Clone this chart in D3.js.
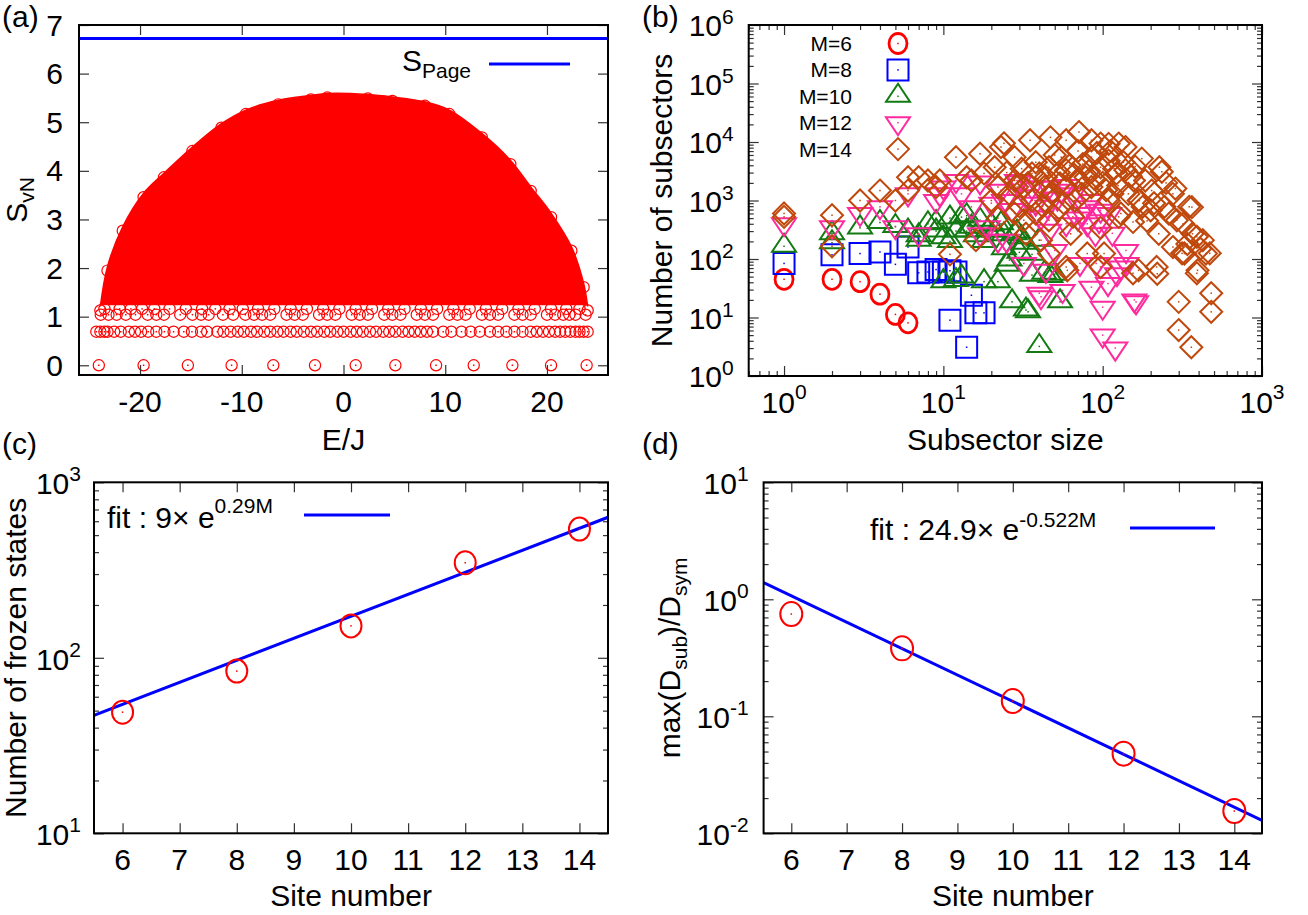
<!DOCTYPE html>
<html>
<head>
<meta charset="utf-8">
<style>
body { margin: 0; background: #fff; }
svg text { font-family: "Liberation Sans", Arial, sans-serif; fill: #000; }
</style>
</head>
<body>
<svg id="fig" width="1308" height="915"></svg>
<script src="https://d3js.org/d3.v7.min.js"></script>
<script>
// ---------- panel (a): entanglement entropy vs energy ----------
var pageEntropy = 6.72;
// upper edge of the dense cloud
var envE = [-23.9, -23.2, -21.7, -19.65, -17.65, -14.85, -12.0, -9.6, -6.4, -3.2, -1.6, 2.4, 4.8, 8.0, 10.4, 13.6, 16.4, 18.4, 20.4, 22.4, 23.6, 24.0];
var envS = [1.21, 2.03, 2.85, 3.54, 3.95, 4.49, 4.97, 5.25, 5.45, 5.55, 5.59, 5.57, 5.52, 5.42, 5.25, 4.77, 4.22, 3.67, 3.13, 2.44, 1.69, 1.21];
var cloudFloor = 1.25;
var zeroE = [-24.05, -19.65, -15.3, -11.0, -6.9, -2.8, 1.2, 5.1, 9.1, 12.8, 16.6, 20.4, 23.9];
var ln2Level = 0.69;
var ln2E = [-24.3, -23.9, -23.5, -23.2, -22.55, -21.9, -21.1, -20.5, -19.9, -19.2, -18.4, -17.6, -16.7, -15.7, -14.9, -14.0, -13.4, -12.4, -11.8, -11.1, -10.4, -9.8, -9.1, -8.5, -7.8, -7.2, -6.5, -5.9, -5.2, -4.6, -3.9, -3.2, -2.6, -1.9, -1.3, -0.6, 0, 0.7, 1.3, 1.9, 2.6, 3.2, 3.9, 4.5, 5.1, 5.8, 6.4, 7.0, 7.6, 8.2, 8.8, 9.8, 10.6, 11.6, 12.5, 13.4, 14.4, 15.2, 16.0, 16.8, 17.6, 18.4, 19.0, 19.6, 20.2, 20.8, 21.3, 21.8, 22.3, 22.8, 23.2, 23.6, 24.0];
var oneLevel = 1.04;
var oneE = [-23.86, -23.1, -22.3, -21.4, -20.45, -19.25, -18.4, -17.65, -16.05, -14.85, -14.0, -13.25, -11.85, -10.85, -9.65, -8.8, -8.0, -7.2, -5.6, -4.8, -4.0, -2.4, -1.6, -0.8, 0.8, 1.6, 2.4, 4.0, 4.8, 5.6, 7.2, 8.0, 8.8, 10.4, 11.2, 12.0, 13.6, 14.4, 15.2, 16.8, 17.6, 18.4, 20.0, 20.8, 21.6, 22.2, 22.8, 23.8];
var midLevel = 1.16;
var midE = [-23.5, -22.0, -20.9, -19.8, -18.6, -17.1, -15.5, -13.9, -12.6, -11.2, -9.9, -8.4, -6.8, -5.2, -3.6, -2.0, -0.4, 1.2, 2.8, 4.4, 6.0, 7.6, 9.2, 10.8, 12.4, 14.0, 15.6, 17.2, 18.8, 20.4, 21.9, 23.2];
var aTicksX = [-20, -10, 0, 10, 20];
var aTicksY = [0, 1, 2, 3, 4, 5, 6, 7];

// ---------- panel (b): subsector size histogram ----------
var m6 = [[1, 45], [2, 45], [3, 41], [4, 25], [5, 11.3], [6, 8.1]];
var m8 = [[1, 84], [2, 118], [3, 124], [4, 132], [5, 81], [6, 160], [7, 58], [8, 60], [9, 66], [10, 60], [11, 63], [12, 60], [11, 9], [15, 24], [16, 12], [18, 12], [14, 3.1]];
var m10 = [[1, 165], [2, 270], [2, 190], [3, 340], [4, 420], [5, 360], [6, 300], [7, 250], [7, 210], [8, 400], [9, 300], [9, 420], [10, 41], [10, 230], [11, 200], [11, 500], [12, 43], [12, 300], [13, 520], [13, 49], [14, 300], [14, 550], [15, 350], [16, 250], [17, 460], [18, 41], [18, 200], [19, 300], [20, 380], [21, 300], [22, 41], [23, 400], [24, 150], [24, 260], [25, 78], [26, 96], [27, 18.5], [28, 270], [29, 290], [30, 130], [31, 230], [32, 185], [33, 13.4], [34, 12.5], [36, 120], [36, 53], [40, 3.2], [40, 210], [43, 57], [47, 50], [50, 55], [54, 18.5]];
var m12 = [[1, 400], [2, 355], [3, 600], [4, 780], [5, 355], [6, 1300], [7, 270], [9, 1000], [9.5, 1300], [10, 1700], [12, 2200], [13, 1300], [15, 780], [17, 2080], [17, 270], [19, 355], [20, 900], [22, 210], [23, 1500], [24, 1000], [25, 210], [27, 700], [29, 2200], [30, 2100], [32, 84], [33, 1200], [36, 1700], [38, 900], [40, 1700], [40, 26], [41, 520], [41, 22.6], [44, 64], [45, 800], [46, 1700], [46, 310], [50, 140], [52, 1100], [55, 1500], [56, 29], [59, 400], [60, 1800], [65, 1300], [70, 500], [72, 84], [75, 600], [78, 780], [80, 400], [85, 1000], [85, 33], [90, 270], [91, 84], [95, 450], [97, 680], [100, 15], [100, 5], [108, 38], [110, 600], [115, 275], [120, 3], [123, 56], [130, 73], [140, 140], [141, 84], [158, 20], [162, 18.5]];
var m14 = [[1, 525], [1, 600], [2, 560], [2, 165], [3, 1000], [4, 1480], [5, 1000], [6, 1480], [6, 2500], [7, 2500], [8, 2200], [9, 1700], [9.5, 2200], [11, 120], [12, 5500], [14, 2500], [15, 2200], [16, 210], [17, 6300], [18, 2900], [20, 1000], [21, 3700], [22, 1700], [22, 500], [23, 8200], [24, 9500], [25, 3000], [26, 1300], [28, 5500], [28, 2200], [28, 600], [29, 1700], [30, 800], [31, 3500], [32, 460], [32, 1700], [33, 270], [34, 2000], [35, 10700], [36, 2900], [36, 1000], [38, 600], [38, 4500], [40, 2900], [41, 210], [42, 800], [43, 1700], [44, 2500], [46, 124], [46, 3700], [46, 1150], [46, 460], [47, 12000], [48, 1400], [50, 6000], [52, 680], [53, 3000], [54, 1950], [55, 5500], [57, 900], [59, 10700], [59, 3300], [59, 1700], [59, 73], [60, 64], [62, 4000], [63, 270], [65, 525], [66, 2800], [67, 1000], [70, 7000], [71, 14800], [71, 2200], [74, 1300], [75, 4200], [78, 2500], [80, 124], [82, 3200], [85, 10700], [85, 1700], [85, 5500], [88, 2400], [92, 6500], [97, 3700], [97, 9400], [97, 340], [97, 73], [100, 2000], [102, 124], [105, 1500], [109, 9300], [109, 1000], [109, 4800], [112, 7000], [115, 1300], [118, 3500], [122, 2900], [125, 1800], [126, 9400], [126, 525], [130, 600], [135, 4500], [139, 8200], [139, 3300], [145, 1300], [150, 2600], [155, 57], [155, 430], [157, 2200], [160, 3800], [168, 1000], [168, 64], [170, 1000], [176, 5200], [178, 780], [185, 2200], [190, 450], [200, 680], [203, 1480], [210, 900], [218, 73], [220, 56], [225, 270], [227, 3700], [235, 3100], [244, 780], [250, 2000], [260, 600], [276, 1300], [276, 160], [286, 1600], [292, 460], [300, 18.5], [300, 6.1], [315, 125], [320, 400], [326, 124], [340, 180], [349, 780], [360, 3.1], [363, 770], [366, 270], [390, 240], [390, 57], [394, 64], [410, 150], [425, 210], [445, 124], [470, 125], [480, 26], [480, 12.5]];
var bDecadesX = [0, 1, 2, 3];
var bDecadesY = [0, 1, 2, 3, 4, 5, 6];

// ---------- panel (c): frozen states ----------
var sites = [6, 8, 10, 12, 14];
var frozen = [49, 84, 152, 348, 541];
var fitCEnds = [[5.5, 47], [14.5, 632]];
var cDecades = [1, 2, 3];

// ---------- panel (d): largest subsector fraction ----------
var ratio = [0.748, 0.381, 0.135, 0.0479, 0.0155];
var fitDEnds = [[5.5, 1.39], [14.5, 0.0129]];
var dDecades = [-2, -1, 0, 1];
var siteTicks = [6, 7, 8, 9, 10, 11, 12, 13, 14];

var FONT = 30, SUB = 21;
var RED = "#ff0000", BLUE = "#0000ff";
var svg = d3.select("#fig");
svg.append("rect").attr("width", 1308).attr("height", 915).attr("fill", "#fff");

var boxA = {l: 79, r: 608, t: 25, b: 375},
    boxB = {l: 748.7, r: 1262, t: 25, b: 376},
    boxC = {l: 94, r: 608, t: 482.3, b: 833.3},
    boxD = {l: 763.6, r: 1262, t: 482.3, b: 833.3};

function clip(id, box) {
  svg.append("clipPath").attr("id", id).append("rect")
    .attr("x", box.l).attr("y", box.t).attr("width", box.r - box.l).attr("height", box.b - box.t);
}

// inward ticks on all four sides, gnuplot style
function addTicks(box, sx, sy, xs, ys) {
  var specs = [
    [d3.axisBottom, sx, "translate(0," + box.b + ")", xs],
    [d3.axisTop, sx, "translate(0," + box.t + ")", xs],
    [d3.axisLeft, sy, "translate(" + box.l + ",0)", ys],
    [d3.axisRight, sy, "translate(" + box.r + ",0)", ys]
  ];
  specs.forEach(function(s) {
    [[s[3].maj, 10], [s[3].min || [], 5]].forEach(function(p) {
      if (!p[0].length) return;
      svg.append("g").attr("transform", s[2]).attr("color", "#333")
        .call(s[0](s[1]).tickValues(p[0]).tickSize(-p[1]).tickFormat(""))
        .call(function(a) { a.select(".domain").remove(); a.selectAll("line").attr("stroke-width", 1.2); });
    });
  });
}

function frame(box) {
  svg.append("rect").attr("x", box.l).attr("y", box.t)
    .attr("width", box.r - box.l).attr("height", box.b - box.t)
    .attr("fill", "none").attr("stroke", "#000").attr("stroke-width", 2);
}

function minorLog(sc) {
  return sc.ticks().filter(function(v) { return Math.abs(Math.log10(v) - Math.round(Math.log10(v))) > 1e-6; });
}

function text(x, y, str, anchor, size) {
  return svg.append("text").attr("x", x).attr("y", y).attr("text-anchor", anchor || "start")
    .style("font-size", (size || FONT) + "px").text(str);
}

function powLabel(x, y, exp, anchor, rise) {
  var t = svg.append("text").attr("x", x).attr("y", y).attr("text-anchor", anchor).style("font-size", FONT + "px");
  t.append("tspan").text("10");
  t.append("tspan").attr("dy", -rise).style("font-size", SUB + "px").text(exp);
}

function rotTitle(x, y, parts) {
  var t = svg.append("text").attr("transform", "translate(" + x + "," + y + ") rotate(-90)")
    .attr("text-anchor", "middle").style("font-size", FONT + "px");
  var shift = 0;
  parts.forEach(function(p) {
    var ts = t.append("tspan").text(p[0]);
    var want = p[1] ? 7 : 0;
    if (want !== shift) { ts.attr("dy", want - shift); shift = want; }
    if (p[1]) ts.style("font-size", SUB + "px");
  });
}

function dot(sel, color) {
  sel.append("rect").attr("x", -0.75).attr("y", -0.75).attr("width", 1.5).attr("height", 1.5).attr("fill", color);
}

// ================= (a) =================
var xA = d3.scaleLinear().domain([-26, 26]).range([boxA.l, boxA.r]);
var yA = d3.scaleLinear().domain([-0.2, 7]).range([boxA.b, boxA.t]);
clip("clipA", boxA);
var gA = svg.append("g").attr("clip-path", "url(#clipA)");

var env = envE.map(function(e, i) { return [e, envS[i]]; });
gA.append("path").datum(env)
  .attr("d", d3.area().x(function(d) { return xA(d[0]); }).y0(yA(cloudFloor)).y1(function(d) { return yA(d[1]); }).curve(d3.curveCatmullRom))
  .attr("fill", RED).attr("stroke", RED).attr("stroke-width", 1.5);

var RING = 5.6;
function ringRow(list, level, dy) {
  list.forEach(function(e) {
    var c = gA.append("g").attr("transform", "translate(" + xA(e) + "," + (yA(level) + (dy || 0)) + ")");
    c.append("circle").attr("r", RING).attr("fill", "none").attr("stroke", RED).attr("stroke-width", 1.2);
    dot(c, RED);
  });
}
ringRow(midE, midLevel);
ringRow(oneE, oneLevel);
ringRow(ln2E, ln2Level);
ringRow(zeroE, 0);
env.forEach(function(d) {
  gA.append("circle").attr("cx", xA(d[0])).attr("cy", yA(d[1]) + 4).attr("r", RING)
    .attr("fill", "none").attr("stroke", RED).attr("stroke-width", 1.2);
});

gA.append("line").attr("x1", boxA.l).attr("x2", boxA.r).attr("y1", yA(pageEntropy)).attr("y2", yA(pageEntropy))
  .attr("stroke", BLUE).attr("stroke-width", 3);

addTicks(boxA, xA, yA, {maj: aTicksX}, {maj: aTicksY});
frame(boxA);
aTicksX.forEach(function(v) { text(xA(v), 412, v, "middle"); });
aTicksY.forEach(function(v) { text(boxA.l - 16, yA(v) + 10.5, v, "end"); });
text((boxA.l + boxA.r) / 2, 450, "E/J", "middle");
rotTitle(27, (boxA.t + boxA.b) / 2, [["S"], ["vN", true]]);
var lgA = svg.append("text").attr("x", 471).attr("y", 71).attr("text-anchor", "end").style("font-size", FONT + "px");
lgA.append("tspan").text("S");
lgA.append("tspan").attr("dy", 7).style("font-size", SUB + "px").text("Page");
svg.append("line").attr("x1", 489).attr("x2", 570).attr("y1", 64).attr("y2", 64).attr("stroke", BLUE).attr("stroke-width", 3);
text(2, 27, "(a)");

// ================= (b) =================
var xB = d3.scaleLog().domain([0.6, 1000]).range([boxB.l, boxB.r]);
var yB = d3.scaleLog().domain([1, 1e6]).range([boxB.b, boxB.t]);
clip("clipB", boxB);
var gB = svg.append("g").attr("clip-path", "url(#clipB)");

var shapes = {
  circle: "M9,0A9,10 0 1,1 -9,0A9,10 0 1,1 9,0Z",
  square: "M-10.5,-10.5H10.5V10.5H-10.5Z",
  up: "M0,-12.5L12,5.5L-12,5.5Z",
  down: "M-12,-5.5L12,-5.5L0,12.5Z",
  diamond: "M0,-11L11,0L0,11L-11,0Z"
};
var seriesB = [
  {label: "M=6", pts: m6, color: RED, shape: "circle", sw: 2.8},
  {label: "M=8", pts: m8, color: BLUE, shape: "square", sw: 2},
  {label: "M=10", pts: m10, color: "#137a13", shape: "up", sw: 2},
  {label: "M=12", pts: m12, color: "#ff2a9d", shape: "down", sw: 2},
  {label: "M=14", pts: m14, color: "#c0480c", shape: "diamond", sw: 2}
];
function mark(parent, s, x, y) {
  var m = parent.append("g").attr("transform", "translate(" + x + "," + y + ")");
  m.append("path").attr("d", shapes[s.shape]).attr("fill", "none").attr("stroke", s.color).attr("stroke-width", s.sw);
  dot(m, s.color);
}
seriesB.forEach(function(s) {
  s.pts.forEach(function(p) { mark(gB, s, xB(p[0]), yB(p[1])); });
});
seriesB.forEach(function(s, i) {
  var yy = 43.5 + i * 26.4;
  text(852, yy + 7.5, s.label, "end", 21);
  mark(svg, s, 898, yy);
});

addTicks(boxB, xB, yB,
  {maj: bDecadesX.map(function(k) { return Math.pow(10, k); }), min: minorLog(xB)},
  {maj: bDecadesY.map(function(k) { return Math.pow(10, k); }), min: minorLog(yB)});
frame(boxB);
bDecadesX.forEach(function(k) { powLabel(xB(Math.pow(10, k)), 413, k, "middle", 14); });
bDecadesY.forEach(function(k) { powLabel(boxB.l - 15, yB(Math.pow(10, k)) + 11, k, "end", 12); });
text((boxB.l + boxB.r) / 2, 450, "Subsector size", "middle");
rotTitle(672, (boxB.t + boxB.b) / 2, [["Number of subsectors"]]);
text(642, 27, "(b)");

// ================= (c) =================
var xC = d3.scaleLinear().domain([5.5, 14.5]).range([boxC.l, boxC.r]);
var yC = d3.scaleLog().domain([10, 1000]).range([boxC.b, boxC.t]);
clip("clipC", boxC);
var gC = svg.append("g").attr("clip-path", "url(#clipC)");
gC.append("path").datum(fitCEnds)
  .attr("d", d3.line().x(function(d) { return xC(d[0]); }).y(function(d) { return yC(d[1]); }))
  .attr("stroke", BLUE).attr("stroke-width", 3).attr("fill", "none");
sites.forEach(function(m, i) {
  var c = gC.append("g").attr("transform", "translate(" + xC(m) + "," + yC(frozen[i]) + ")");
  c.append("ellipse").attr("rx", 10.5).attr("ry", 11.5).attr("fill", "none").attr("stroke", RED).attr("stroke-width", 2);
  dot(c, RED);
});
addTicks(boxC, xC, yC, {maj: siteTicks},
  {maj: cDecades.map(function(k) { return Math.pow(10, k); }), min: minorLog(yC)});
frame(boxC);
siteTicks.forEach(function(v) { text(xC(v), 870, v, "middle"); });
cDecades.forEach(function(k) { powLabel(boxC.l - 13, yC(Math.pow(10, k)) + 12, k, "end", 13); });
text((boxC.l + boxC.r) / 2, 906, "Site number", "middle");
rotTitle(26, (boxC.t + boxC.b) / 2, [["Number of frozen states"]]);
var lgC = text(107, 528, "fit : 9\u00d7 e");
lgC.append("tspan").attr("dy", -15).style("font-size", SUB + "px").text("0.29M");
svg.append("line").attr("x1", 304).attr("x2", 390).attr("y1", 515).attr("y2", 515).attr("stroke", BLUE).attr("stroke-width", 3);
text(2, 454, "(c)");

// ================= (d) =================
var xD = d3.scaleLinear().domain([5.5, 14.5]).range([boxD.l, boxD.r]);
var yD = d3.scaleLog().domain([0.01, 10]).range([boxD.b, boxD.t]);
clip("clipD", boxD);
var gD = svg.append("g").attr("clip-path", "url(#clipD)");
gD.append("path").datum(fitDEnds)
  .attr("d", d3.line().x(function(d) { return xD(d[0]); }).y(function(d) { return yD(d[1]); }))
  .attr("stroke", BLUE).attr("stroke-width", 3).attr("fill", "none");
sites.forEach(function(m, i) {
  var c = gD.append("g").attr("transform", "translate(" + xD(m) + "," + yD(ratio[i]) + ")");
  c.append("ellipse").attr("rx", 11).attr("ry", 12).attr("fill", "none").attr("stroke", RED).attr("stroke-width", 2);
  dot(c, RED);
});
addTicks(boxD, xD, yD, {maj: siteTicks},
  {maj: dDecades.map(function(k) { return Math.pow(10, k); }), min: minorLog(yD)});
frame(boxD);
siteTicks.forEach(function(v) { text(xD(v), 870, v, "middle"); });
dDecades.forEach(function(k) { powLabel(boxD.l - 15, yD(Math.pow(10, k)) + 12, k, "end", 13); });
text((boxD.l + boxD.r) / 2, 906, "Site number", "middle");
rotTitle(680, (boxD.t + boxD.b) / 2, [["max(D"], ["sub", true], [")/D"], ["sym", true]]);
var lgD = text(870, 540, "fit : 24.9\u00d7 e");
lgD.append("tspan").attr("dy", -13).style("font-size", SUB + "px").text("-0.522M");
svg.append("line").attr("x1", 1130).attr("x2", 1215).attr("y1", 528).attr("y2", 528).attr("stroke", BLUE).attr("stroke-width", 3);
text(642, 454, "(d)");
</script>
</body>
</html>
